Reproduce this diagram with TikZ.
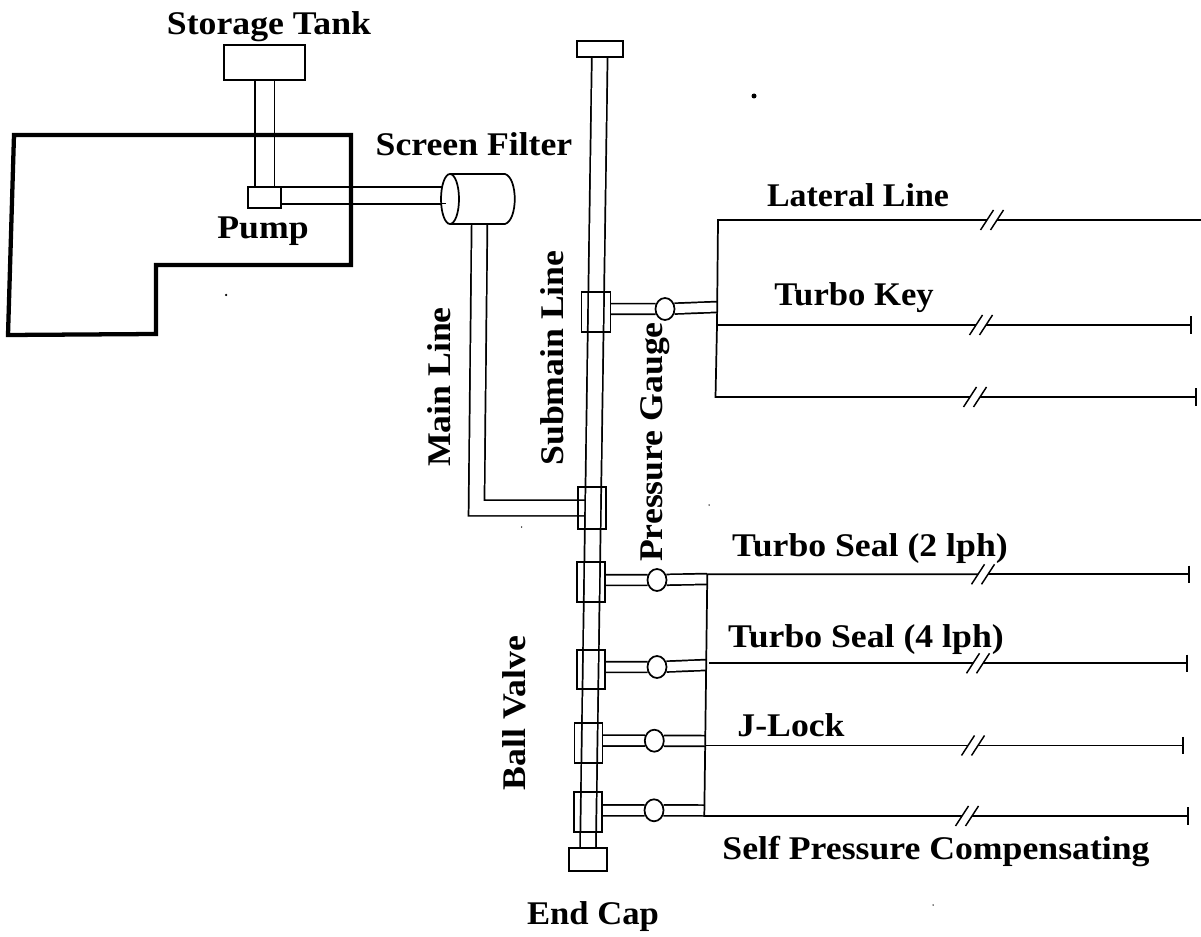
\documentclass[tikz,border=0pt]{standalone}
\usepackage{fontspec}
\setmainfont{Liberation Serif}[FakeStretch=1.08]
\usetikzlibrary{shapes.geometric,arrows.meta,backgrounds,calc}
\tikzset{
  unitbox/.style={draw=black,line width=1.3pt,inner sep=0pt,outer sep=0pt},
  box/.style 2 args={unitbox,minimum width=#1*0.75pt,minimum height=#2*0.75pt},
  gauge/.style={unitbox,ellipse,fill=white,minimum width=19*0.75pt,minimum height=22*0.75pt},
  pipe/.style={draw=black,line width=1.3pt,double=white,double distance=#1*0.75pt,line join=miter},
  line/.style={draw=black,line width=1.3pt},
  ended/.style={line,-{Bar[width=13pt,line width=1.2pt]}},
  slash/.style={draw=black,line width=1.1pt},
  lab/.style={font=\fontsize{24.8}{28}\selectfont\bfseries,inner sep=0pt,text=black},
  outline/.style={draw=black,line width=3.2pt,line join=miter},
  speck/.style={fill=black,circle,inner sep=0pt,minimum size=#1*0.75pt}
}
% break marks on a line: \brk{name}{x}{y}
\newcommand{\brk}[3]{%
  \coordinate (#1a) at (#2-5,#3);
  \coordinate (#1b) at (#2+5,#3);
  \draw[slash] ($(#1a)+(-6.5,10)$) -- ($(#1a)+(6.5,-10)$);
  \draw[slash] ($(#1b)+(-6.5,10)$) -- ($(#1b)+(6.5,-10)$);
}
\begin{document}
\begin{tikzpicture}[x=0.75pt,y=-0.75pt]
\useasboundingbox (0,0) rectangle (1201,937);

% nodes
\node[box={81}{35}] (tank) at (264.5,62.5) {};
\node[box={33}{21},fill=white] (pump) at (264.5,197.5) {};
\node[box={46}{16}] (capT) at (599.7,49) {};
\node[box={38}{23}] (capB) at (588,859.5) {};
\node[box={29}{40}] (vS) at (596,312) {};
\node[box={28}{42}] (v0) at (592,508) {};
\node[box={28}{40}] (v1) at (591,582) {};
\node[box={28}{39}] (v2) at (591,669.5) {};
\node[box={28}{40}] (v3) at (588.5,743.3) {};
\node[box={28}{40}] (v4) at (588,812) {};
\node[gauge] (g0) at (665,309) {};
\node[gauge] (g1) at (657,580) {};
\node[gauge] (g2) at (657,667) {};
\node[gauge] (g3) at (654.3,740.7) {};
\node[gauge] (g4) at (654,810.3) {};

% filter
\coordinate (fi) at (442,195.5);
\coordinate (fo) at (479.5,224);
\coordinate (fstub) at (446,203.5);
\fill[white] (450,174) -- (505,174) .. controls (518,178) and (518,220) .. (505,224) -- (450,224) -- cycle;
\draw[line] (450,174) -- (505,174) .. controls (518,178) and (518,220) .. (505,224) -- (450,224);
\node[unitbox,ellipse,fill=white,minimum width=18*0.75pt,minimum height=50*0.75pt] (filt) at (450,199) {};
\draw[line] (filt.west |- fstub) -- (fstub);

% manifold coordinates
\coordinate (m0top) at (718,220);
\coordinate (m0mid) at (717,325);
\coordinate (m0bot) at (715.5,397);
\coordinate (m0) at (717,307);
\coordinate (m1top) at (707.3,574.3);
\coordinate (m1) at (707,579);
\coordinate (m2) at (706.5,665);
\coordinate (m2l) at (709,663.3);
\coordinate (m3) at (705.3,741);
\coordinate (m3l) at (705,745.5);
\coordinate (m4) at (704.3,810.5);
\coordinate (m4l) at (704.3,816);

\begin{pgfonlayer}{background}
  \fill[white] (0,0) rectangle (1201,937);
  \draw[pipe=18] (tank.south) -- (tank.south |- pump.north);
  \draw[pipe=15] (pump.east |- fi) -- (fi);
  \draw[pipe=14] (fo) -- (476.5,508) -- (585,508);
  \draw[pipe=14] (capT.south) -- (capB.north);
  \draw[pipe=9] (vS.east |- g0) -- (g0) -- (m0);
  \draw[pipe=9] (v1.east |- g1) -- (g1) -- (m1);
  \draw[pipe=9] (v2.east |- g2) -- (g2) -- (m2);
  \draw[pipe=9] (v3.east |- g3) -- (g3) -- (m3);
  \draw[pipe=9] (v4.east |- g4) -- (g4) -- (m4);
  % outline of the plot
  \draw[outline] (14,135) -- (351,135) -- (351,265) -- (156,265) -- (156,334) -- (8,335) -- cycle;
\end{pgfonlayer}

% upper laterals
\brk{a}{992}{220}
\brk{b}{981}{325}
\brk{c}{975}{397}
\coordinate (aEnd) at (1201,220);
\coordinate (bEnd) at (1192,325);
\coordinate (cEnd) at (1197,397);
\draw[line] (aa) -- (m0top) -- (m0mid) -- (m0bot) -- (ca);
\draw[line] (ab) -- (aEnd);
\draw[line] (m0mid) -- (ba);
\draw[ended] (bb) -- (bEnd);
\draw[ended] (cb) -- (cEnd);

% lower laterals
\brk{d}{983}{574.3}
\brk{e}{978}{663.3}
\brk{f}{973}{745.5}
\brk{g}{967}{816}
\coordinate (dEnd) at (1189.5,574.3);
\coordinate (eEnd) at (1187.5,663.3);
\coordinate (fEnd) at (1183.5,745.5);
\coordinate (gEnd) at (1188.5,816);
\draw[line] (da) -- (m1top) -- (m4l) -- (ga);
\draw[ended] (db) -- (dEnd);
\draw[line] (m2l) -- (ea);
\draw[ended] (eb) -- (eEnd);
\draw[line] (m3l) -- (fa);
\draw[ended] (fb) -- (fEnd);
\draw[ended] (gb) -- (gEnd);

% labels
\node[lab] (lTank) at (269,27) {Storage Tank};
\node[lab] (lFilter) at (474,144) {Screen Filter};
\node[lab] (lPump) at (263,231) {Pump};
\node[lab,rotate=90] (lMain) at (439,387) {Main Line};
\node[lab,rotate=90] (lSub) at (552,358) {Submain Line};
\node[lab,rotate=90] (lGauge) at (655,442) {Pressure Gauge};
\node[lab,xscale=0.95] (lLat) at (858,195) {Lateral Line};
\node[lab,xscale=0.97] (lKey) at (854,298) {Turbo Key};
\node[lab] (lS2) at (870,549) {Turbo Seal (2 lph)};
\node[lab] (lS4) at (866,640) {Turbo Seal (4 lph)};
\node[lab] (lJ) at (791,725) {J-Lock};
\node[lab,rotate=90] (lBall) at (514,713) {Ball Valve};
\node[lab] (lSelf) at (936,851) {Self Pressure Compensating};
\node[lab,xscale=0.97] (lEnd) at (593,917) {End Cap};

% specks of the scan
\node[speck=5] (s1) at (754,96) {};
\node[speck=2.5] (s2) at (226,295) {};
\node[speck=1.5] (s3) at (709,505) {};
\node[speck=1.5] (s4) at (521.7,527) {};
\node[speck=1.5] (s5) at (933,905) {};
\end{tikzpicture}
\end{document}
